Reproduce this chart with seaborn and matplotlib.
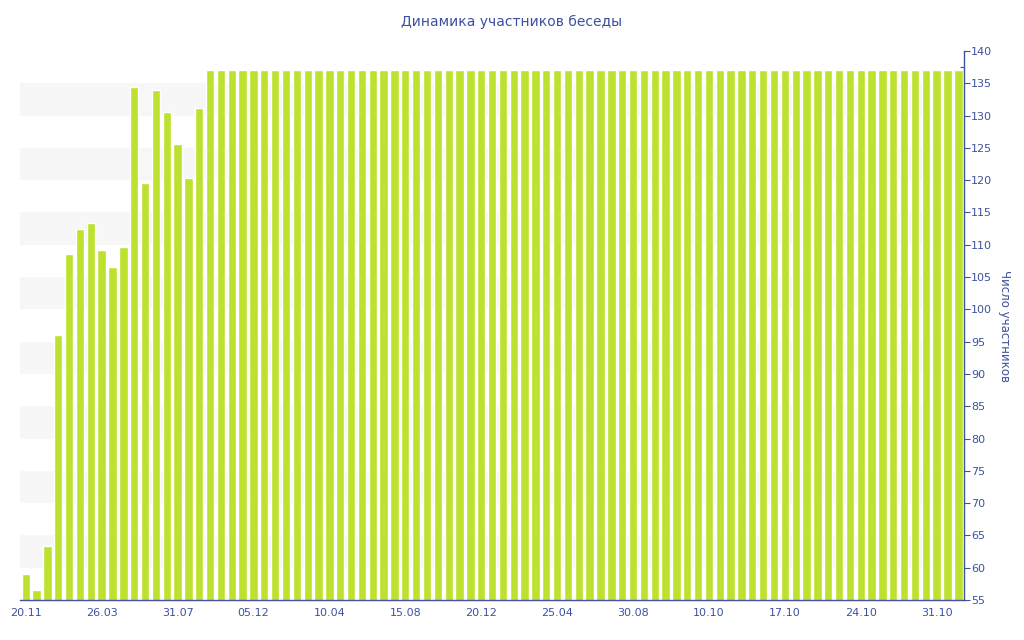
import pandas as pd
import seaborn as sns
import matplotlib.pyplot as plt
from matplotlib.ticker import MultipleLocator

# members per period
members = [
    59.0, 56.5, 63.4, 96.0, 108.6, 112.4, 113.3, 109.2, 106.6, 109.6,
    134.5, 119.5, 133.9, 130.5, 125.6, 120.3, 131.2,
    137, 137, 137, 137, 137, 137, 137, 137, 137, 137, 137, 137, 137, 137,
    137, 137, 137, 137, 137, 137, 137, 137, 137, 137, 137, 137, 137, 137,
    137, 137, 137, 137, 137, 137, 137, 137, 137, 137, 137, 137, 137, 137,
    137, 137, 137, 137, 137, 137, 137, 137, 137, 137, 137, 137, 137, 137,
    137, 137, 137, 137, 137, 137, 137, 137, 137, 137, 137, 137, 137, 137,
]
tick_labels = ['20.11', '26.03', '31.07', '05.12', '10.04', '15.08', '20.12',
               '25.04', '30.08', '10.10', '17.10', '24.10', '31.10']

title = 'Динамика участников беседы'
ylabel = 'Число участников'

bar_color = '#bde12f'
text_color = '#3d519f'
axis_color = '#3f51a0'

sns.set_style('white')
plt.rcParams['font.family'] = ['DejaVu Sans']

df = pd.DataFrame({'period': range(len(members)), 'members': members})

fig = plt.figure(figsize=(10.24, 6.4), dpi=100)
ax = fig.add_axes([20 / 1024, 40 / 640, 944 / 1024, 549 / 640])

# alternating grey bands
for lo in range(60, 135, 10):
    ax.axhspan(lo, lo + 5, color='#f7f7f7', zorder=0, lw=0)

sns.barplot(data=df, x='period', y='members', color=bar_color, saturation=1,
            width=0.77, ax=ax, zorder=2)

ax.set_ylim(55, 140)
ax.set_xlim(-0.53, len(members) - 0.48)

ax.set_xticks(range(0, 7 * len(tick_labels), 7))
ax.set_xticklabels(tick_labels)
ax.set_xlabel('')

ax.yaxis.tick_right()
ax.yaxis.set_label_position('right')
ax.yaxis.set_major_locator(MultipleLocator(5))
ax.yaxis.set_minor_locator(MultipleLocator(2.5))
ax.set_ylabel(ylabel, rotation=270, va='center', ha='center',
              fontsize=8.5, color=text_color)
ax.yaxis.set_label_coords(1.0434, 0.5)

for s in ['left', 'top']:
    ax.spines[s].set_visible(False)
for s in ['right', 'bottom']:
    ax.spines[s].set_color(axis_color)
    ax.spines[s].set_linewidth(1)

ax.tick_params(axis='y', which='major', direction='out', length=4, width=0.8,
               color=axis_color, labelcolor=text_color, labelsize=8, pad=1)
ax.tick_params(axis='y', which='minor', direction='in', length=3, width=0.8,
               color=axis_color, right=True, left=False)
ax.tick_params(axis='x', which='major', direction='out', length=3, width=0.8,
               color=axis_color, labelcolor=text_color, labelsize=8, pad=3)

fig.text(0.5, 1 - 22 / 640, title, ha='center', va='center',
         fontsize=10, color=text_color)

fig.savefig('out.png', dpi=100)
